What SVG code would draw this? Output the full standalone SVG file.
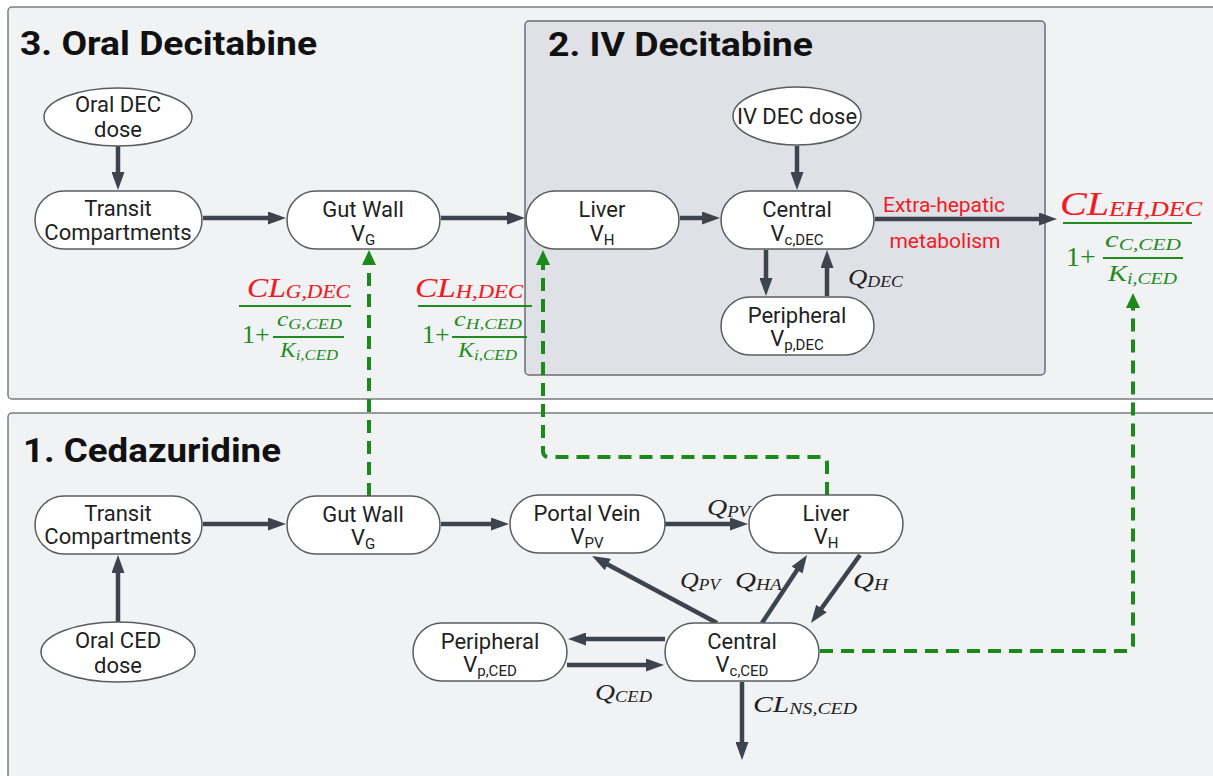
<svg xmlns="http://www.w3.org/2000/svg" width="1213" height="776" viewBox="0 0 1213 776">
<defs>
<style>
.panel{fill:#f1f2f4;stroke:#7a7c80;stroke-width:1.5}
.ivbox{fill:#dfe1e6;stroke:#6c6e72;stroke-width:1.5}
.title{font-family:Roboto,"Liberation Sans",sans-serif;font-weight:bold;font-size:33px;fill:#111}
.node{fill:#fff;stroke:#5a5c60;stroke-width:1.5}
.lbl{font-family:Roboto,"Liberation Sans",sans-serif;font-size:22px;fill:#222;text-anchor:middle}
.sub{font-size:15px}
.arr{fill:none;stroke:#3d4450;stroke-width:4.5}
.dash{fill:none;stroke:#1b8a1b;stroke-width:4;stroke-dasharray:13 8}
.math{font-family:"Liberation Serif","Times New Roman",serif;font-style:italic}
.red{fill:#ee1c25;stroke:#ee1c25;stroke-width:0.15}
.grn{fill:#1e8c1e}
.blk{fill:#222}
.fl{stroke:#1e8c1e;stroke-width:2}
.ext{font-family:Roboto,"Liberation Sans",sans-serif;font-size:21px;fill:#ee1c25;text-anchor:middle}
</style>
<marker id="ah" viewBox="0 0 18 13" refX="6" refY="6.5" markerWidth="18" markerHeight="13" markerUnits="userSpaceOnUse" orient="auto">
<path d="M0,0 L18,6.5 L0,13 z" fill="#3d4450"/>
</marker>
<marker id="gh" viewBox="0 0 15 14" refX="4" refY="7" markerWidth="15" markerHeight="14" markerUnits="userSpaceOnUse" orient="auto">
<path d="M0,0 L15,7 L0,14 z" fill="#1b8a1b"/>
</marker>
</defs>

<g id="panel-oral-dec">
<rect class="panel" x="8" y="7" width="1210" height="392" rx="4"/>
<text class="title" x="20" y="55" textLength="297" lengthAdjust="spacingAndGlyphs">3. Oral Decitabine</text>
</g>
<g id="panel-iv-dec">
<rect class="ivbox" x="525" y="21" width="520" height="354" rx="4"/>
<text class="title" x="548" y="56" textLength="265" lengthAdjust="spacingAndGlyphs">2. IV Decitabine</text>
</g>
<g id="panel-ced">
<rect class="panel" x="8" y="413" width="1210" height="380" rx="4"/>
<text class="title" x="23" y="462" textLength="258" lengthAdjust="spacingAndGlyphs">1. Cedazuridine</text>
</g>

<g id="connectors">
<path class="arr" marker-end="url(#ah)" d="M118,146 V178"/>
<path class="arr" marker-end="url(#ah)" d="M203,218 H274"/>
<path class="arr" marker-end="url(#ah)" d="M441,218 H513"/>
<path class="arr" marker-end="url(#ah)" d="M680,218 H708"/>
<path class="arr" marker-end="url(#ah)" d="M797,146 V178"/>
<path class="arr" marker-end="url(#ah)" d="M766,250 V284"/>
<path class="arr" marker-end="url(#ah)" d="M827,296 V262"/>
<path class="arr" marker-end="url(#ah)" d="M875,219 H1045"/>
<path class="arr" marker-end="url(#ah)" d="M118,622 V567"/>
<path class="arr" marker-end="url(#ah)" d="M203,524 H274"/>
<path class="arr" marker-end="url(#ah)" d="M441,524 H497"/>
<path class="arr" marker-end="url(#ah)" d="M665,524 H736"/>
<path class="arr" marker-end="url(#ah)" d="M717,623 L602.6,561.7"/>
<path class="arr" marker-end="url(#ah)" d="M762,623 L800.4,565"/>
<path class="arr" marker-end="url(#ah)" d="M860,555 L818,613.3"/>
<path class="arr" marker-end="url(#ah)" d="M665,639 H580"/>
<path class="arr" marker-end="url(#ah)" d="M567,665 H652"/>
<path class="arr" marker-end="url(#ah)" d="M742,682 V748"/>
<path class="dash" marker-end="url(#gh)" d="M369,496 V261"/>
<path class="dash" marker-end="url(#gh)" d="M827,495 V463 Q827,457 821,457 H549 Q543,457 543,451 V261"/>
<path class="dash" marker-end="url(#gh)" d="M820,651 H1127 Q1133,651 1133,645 V304"/>
</g>

<g id="oral-dec-dose">
<ellipse class="node" cx="118" cy="117" rx="74" ry="29"/>
<text class="lbl" x="118" y="112">Oral DEC</text>
<text class="lbl" x="118" y="137">dose</text>
</g>
<g id="transit-dec">
<rect class="node" x="35" y="191" width="167" height="58" rx="29"/>
<text class="lbl" x="118" y="216">Transit</text>
<text class="lbl" x="118" y="240">Compartments</text>
</g>
<g id="gutwall-dec">
<rect class="node" x="287" y="191" width="153" height="58" rx="29"/>
<text class="lbl" x="363" y="217">Gut Wall</text>
<text class="lbl" x="363" y="241">V<tspan class="sub" dy="4">G</tspan></text>
</g>
<g id="liver-dec">
<rect class="node" x="526" y="191" width="153" height="58" rx="29"/>
<text class="lbl" x="602" y="217">Liver</text>
<text class="lbl" x="602" y="241">V<tspan class="sub" dy="4">H</tspan></text>
</g>
<g id="iv-dec-dose">
<ellipse class="node" cx="797" cy="116" rx="64" ry="29"/>
<text class="lbl" x="797" y="124">IV DEC dose</text>
</g>
<g id="central-dec">
<rect class="node" x="721" y="191" width="153" height="58" rx="29"/>
<text class="lbl" x="797" y="217">Central</text>
<text class="lbl" x="797" y="241">V<tspan class="sub" dy="4">c,DEC</tspan></text>
</g>
<g id="peripheral-dec">
<rect class="node" x="721" y="297" width="153" height="58" rx="29"/>
<text class="lbl" x="797" y="323">Peripheral</text>
<text class="lbl" x="797" y="346">V<tspan class="sub" dy="4">p,DEC</tspan></text>
</g>

<g id="transit-ced">
<rect class="node" x="35" y="496" width="167" height="58" rx="29"/>
<text class="lbl" x="118" y="521">Transit</text>
<text class="lbl" x="118" y="544">Compartments</text>
</g>
<g id="gutwall-ced">
<rect class="node" x="287" y="496" width="153" height="58" rx="29"/>
<text class="lbl" x="363" y="522">Gut Wall</text>
<text class="lbl" x="363" y="545">V<tspan class="sub" dy="4">G</tspan></text>
</g>
<g id="portal-vein">
<rect class="node" x="510" y="495" width="155" height="58" rx="29"/>
<text class="lbl" x="587" y="521">Portal Vein</text>
<text class="lbl" x="587" y="544">V<tspan class="sub" dy="4">PV</tspan></text>
</g>
<g id="liver-ced">
<rect class="node" x="749" y="495" width="154" height="58" rx="29"/>
<text class="lbl" x="826" y="521">Liver</text>
<text class="lbl" x="826" y="544">V<tspan class="sub" dy="4">H</tspan></text>
</g>
<g id="oral-ced-dose">
<ellipse class="node" cx="118" cy="652" rx="77" ry="30"/>
<text class="lbl" x="118" y="648">Oral CED</text>
<text class="lbl" x="118" y="673">dose</text>
</g>
<g id="peripheral-ced">
<rect class="node" x="413" y="623" width="154" height="58" rx="29"/>
<text class="lbl" x="490" y="649">Peripheral</text>
<text class="lbl" x="490" y="672">V<tspan class="sub" dy="4">p,CED</tspan></text>
</g>
<g id="central-ced">
<rect class="node" x="665" y="623" width="154" height="58" rx="29"/>
<text class="lbl" x="742" y="649">Central</text>
<text class="lbl" x="742" y="672">V<tspan class="sub" dy="4">c,CED</tspan></text>
</g>

<g id="labels">
<text class="ext" x="944" y="212">Extra-hepatic</text>
<text class="ext" x="945" y="248">metabolism</text>

<text class="math blk" x="848" y="285" font-size="24" textLength="55" lengthAdjust="spacingAndGlyphs">Q<tspan font-size="16" dy="2">DEC</tspan></text>
<text class="math blk" x="707" y="515" font-size="24" textLength="43" lengthAdjust="spacingAndGlyphs">Q<tspan font-size="16" dy="2">PV</tspan></text>
<text class="math blk" x="680" y="588" font-size="24" textLength="40" lengthAdjust="spacingAndGlyphs">Q<tspan font-size="16" dy="2">PV</tspan></text>
<text class="math blk" x="735" y="588" font-size="24" textLength="47" lengthAdjust="spacingAndGlyphs">Q<tspan font-size="16" dy="2">HA</tspan></text>
<text class="math blk" x="853" y="588" font-size="24" textLength="35" lengthAdjust="spacingAndGlyphs">Q<tspan font-size="16" dy="2">H</tspan></text>
<text class="math blk" x="595" y="700" font-size="24" textLength="57" lengthAdjust="spacingAndGlyphs">Q<tspan font-size="16" dy="2">CED</tspan></text>
<text class="math blk" x="753" y="712" font-size="24" textLength="104" lengthAdjust="spacingAndGlyphs">CL<tspan font-size="16" dy="2">NS,CED</tspan></text>
</g>

<g id="inhibition-gut">
<text class="math red" x="247" y="297" font-size="28" textLength="103" lengthAdjust="spacingAndGlyphs">CL<tspan font-size="19" dy="1">G,DEC</tspan></text>
<line class="fl" x1="239" y1="306" x2="351" y2="306"/>
<text class="grn" x="242" y="343" font-family="Liberation Serif, serif" font-size="26">1+</text>
<line class="fl" x1="273" y1="337" x2="344" y2="337" stroke-width="1.5"/>
<text class="math grn" x="277" y="326" font-size="21" textLength="65" lengthAdjust="spacingAndGlyphs">c<tspan font-size="15" dy="3">G,CED</tspan></text>
<text class="math grn" x="280" y="357" font-size="21" textLength="58" lengthAdjust="spacingAndGlyphs">K<tspan font-size="15" dy="3">i,CED</tspan></text>
</g>
<g id="inhibition-liver">
<text class="math red" x="415" y="297" font-size="28" textLength="108" lengthAdjust="spacingAndGlyphs">CL<tspan font-size="19" dy="1">H,DEC</tspan></text>
<line class="fl" x1="418" y1="306" x2="532" y2="306"/>
<text class="grn" x="422" y="343" font-family="Liberation Serif, serif" font-size="26">1+</text>
<line class="fl" x1="452" y1="337" x2="527" y2="337" stroke-width="1.5"/>
<text class="math grn" x="454" y="326" font-size="21" textLength="68" lengthAdjust="spacingAndGlyphs">c<tspan font-size="15" dy="3">H,CED</tspan></text>
<text class="math grn" x="458" y="357" font-size="21" textLength="59" lengthAdjust="spacingAndGlyphs">K<tspan font-size="15" dy="3">i,CED</tspan></text>
</g>
<g id="inhibition-eh">
<text class="math red" x="1060" y="215" font-size="34" textLength="142" lengthAdjust="spacingAndGlyphs">CL<tspan font-size="22" dy="1">EH,DEC</tspan></text>
<line class="fl" x1="1063" y1="223" x2="1192" y2="223" stroke-width="2.5"/>
<text class="grn" x="1066" y="266" font-family="Liberation Serif, serif" font-size="28">1+</text>
<line class="fl" x1="1103" y1="258" x2="1183" y2="258" stroke-width="1.8"/>
<text class="math grn" x="1105" y="247" font-size="23" textLength="76" lengthAdjust="spacingAndGlyphs">c<tspan font-size="16" dy="3">C,CED</tspan></text>
<text class="math grn" x="1108" y="281" font-size="23" textLength="69" lengthAdjust="spacingAndGlyphs">K<tspan font-size="16" dy="3">i,CED</tspan></text>
</g>
</svg>
